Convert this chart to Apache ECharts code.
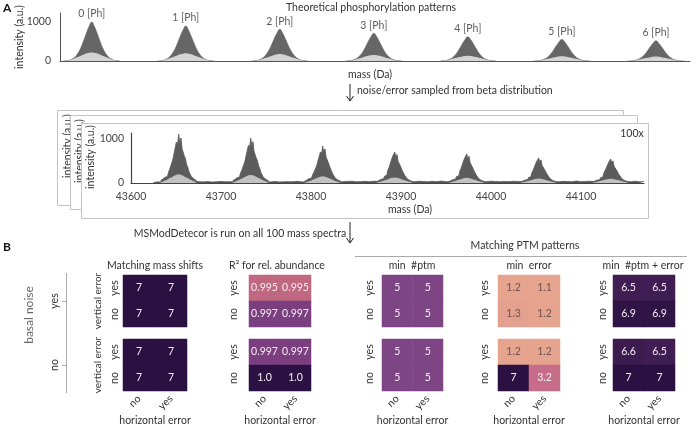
<!DOCTYPE html>
<html><head><meta charset="utf-8">
<script src="https://cdn.jsdelivr.net/npm/echarts@6/dist/echarts.min.js"></script>
<style>html,body{margin:0;padding:0;background:#fff}#c{width:700px;height:430px}</style>
</head><body><div id="c"></div>
<script>
const FONT = 'Lato';
const FS = 10.5;
// ---------- Panel A data ----------
const phLabels = ['0 [Ph]','1 [Ph]','2 [Ph]','3 [Ph]','4 [Ph]','5 [Ph]','6 [Ph]'];
const peakMasses = [43653,43733,43813,43893,43973,44053,44133];
const theoHeights = [1000,897,812,710,623,556,520];
const theoOffsets = [-24,-21.6,-19.2,-16.8,-14.4,-12,-9.6,-7.2,-4.8,-2.4,0,2.4,4.8,7.2,9.6,12,14.4,16.8,19.2,21.6,24];
const theoOuter = [0.0,0.01,0.02,0.05,0.10,0.19,0.32,0.50,0.70,0.88,1.0,0.88,0.70,0.50,0.32,0.19,0.10,0.05,0.02,0.01,0.0];
const theoInner = [0.0,0.01,0.02,0.04,0.07,0.10,0.13,0.16,0.19,0.21,0.22,0.21,0.19,0.16,0.13,0.10,0.07,0.04,0.02,0.01,0.0];
const noisyHeights = [1110,1020,840,705,660,570,545];
const noisyOffsets = [-20,-18.75,-17.5,-16.25,-15,-13.75,-12.5,-11.25,-10,-8.75,-7.5,-6.25,-5,-3.75,-2.5,-1.25,0,1.25,2.5,3.75,5,6.25,7.5,8.75,10,11.25,12.5,13.75,15,16.25,17.5,18.75,20];
const noisyOuter = [0.05,0.06,0.08,0.07,0.12,0.15,0.13,0.22,0.28,0.25,0.42,0.50,0.62,0.58,0.84,0.78,1.0,0.82,0.92,0.70,0.74,0.55,0.50,0.38,0.33,0.24,0.20,0.14,0.12,0.09,0.08,0.06,0.05];
const noisyInner = [0.01,0.02,0.03,0.04,0.05,0.06,0.07,0.08,0.10,0.11,0.12,0.13,0.15,0.16,0.17,0.18,0.18,0.18,0.17,0.16,0.15,0.13,0.12,0.11,0.10,0.08,0.07,0.06,0.05,0.04,0.03,0.02,0.01];
const noiseStart = 43625, noiseStep = 5;
const baseNoise = [10,25,18,30,22,35,28,40, 45,38,30,25,32,20,28,35, 26,30,22,40,28,33,50,36,
  42,30,25,34,22,28,30,26, 38,24,30,45,27,33,40,48, 36,30,28,35,40,26,30,38,
  28,42,33,30,25,36,48,40, 35,30,28,40,32,26,38,30, 45,28,34,30,26,40,35,46,
  38,30,28,42,33,27,36,30, 40,34,28,46,30,36,42,50, 36,30,26,38,32,28,44,30,
  34,40,28,32,48,36,42,38, 30,35,28,40,26,32];
const massTicks = [43600,43700,43800,43900,44000,44100];
const intensityTicks = [0,1000];

// ---------- Panel B data ----------
const hCats = ['no','yes'];
const vCats = ['no','yes'];
const panelTitles = ['Matching mass shifts','R\u00b2 for rel. abundance','min  #ptm','min  error','min  #ptm + error'];
// rows: [vertical error yes, vertical error no]; cols: [horizontal no, horizontal yes]
const massShiftsNoiseYes = [[7,7],[7,7]];
const massShiftsNoiseNo  = [[7,7],[7,7]];
const r2NoiseYes = [[0.995,0.995],[0.997,0.997]];
const r2NoiseNo  = [[0.997,0.997],[1.0,1.0]];
const minPtmNoiseYes = [[5,5],[5,5]];
const minPtmNoiseNo  = [[5,5],[5,5]];
const minErrNoiseYes = [[1.2,1.1],[1.3,1.2]];
const minErrNoiseNo  = [[1.2,1.2],[7,3.2]];
const minBothNoiseYes = [[6.5,6.5],[6.9,6.9]];
const minBothNoiseNo  = [[6.6,6.5],[7,7]];
const panels = [
  [massShiftsNoiseYes, massShiftsNoiseNo],
  [r2NoiseYes, r2NoiseNo],
  [minPtmNoiseYes, minPtmNoiseNo],
  [minErrNoiseYes, minErrNoiseNo],
  [minBothNoiseYes, minBothNoiseNo]
];

// ---------- layout ----------
const txt = '#333';
const plain = (v) => String(v);
const grids = [], xAxes = [], yAxes = [], series = [];
grids.push({left:60, top:13, width:630, height:48});
xAxes.push({type:'value', gridIndex:0, min:43626, max:44162, axisLine:{lineStyle:{color:'#555',width:1}},
  axisTick:{show:false}, axisLabel:{show:false}, splitLine:{show:false}});
yAxes.push({type:'value', gridIndex:0, min:0, max:1230, axisLine:{show:true,lineStyle:{color:'#555'}},
  axisTick:{show:false}, splitLine:{show:false},
  axisLabel:{customValues:intensityTicks, formatter:plain, margin:9, fontFamily:FONT, fontSize:FS, color:'#444'}});
grids.push({left:131, top:133, width:513, height:50, z:10});
xAxes.push({type:'value', gridIndex:1, min:43600, max:44170, z:10, axisLine:{lineStyle:{color:'#444',width:1.2}},
  axisTick:{show:false}, splitLine:{show:false},
  axisLabel:{customValues:massTicks, formatter:plain, margin:8, fontFamily:FONT, fontSize:FS, color:'#444'}});
yAxes.push({type:'value', gridIndex:1, min:0, max:1136, z:10, axisLine:{show:true,lineStyle:{color:'#444',width:1.2}},
  axisTick:{show:false}, splitLine:{show:false},
  axisLabel:{customValues:intensityTicks, formatter:plain, margin:7, fontFamily:FONT, fontSize:FS, color:'#444'}});

function peakSeries(gi, masses, heights, offsets, prof, color, z, smooth, lw) {
  masses.forEach((m, i) => {
    series.push({type:'line', xAxisIndex:gi, yAxisIndex:gi, symbol:'none', smooth:smooth, z:z,
      silent:true, animation:false,
      lineStyle:{color:color, width:lw}, areaStyle:{color:color, opacity:1},
      data: offsets.map((o, k) => [m + o, heights[i] * prof[k]])});
  });
}
peakSeries(0, peakMasses, theoHeights, theoOffsets, theoOuter, '#666666', 3, true, 0.5);
peakSeries(0, peakMasses, theoHeights, theoOffsets, theoInner, '#d4d4d4', 4, true, 0);
series.push({type:'scatter', xAxisIndex:0, yAxisIndex:0, symbolSize:1, itemStyle:{color:'rgba(0,0,0,0)'}, z:5,
  label:{show:true, position:'top', distance:2, formatter:'{b}', fontFamily:FONT, fontSize:FS, color:txt},
  labelLayout:{hideOverlap:false},
  data: peakMasses.map((m, i) => ({name: phLabels[i], value:[m, theoHeights[i]]}))});

series.push({type:'line', xAxisIndex:1, yAxisIndex:1, symbol:'none', z:11, animation:false,
  lineStyle:{color:'#555', width:0.8}, areaStyle:{color:'#555', opacity:1},
  data: baseNoise.map((v, k) => [noiseStart + k * noiseStep, v])});
peakSeries(1, peakMasses, noisyHeights, noisyOffsets, noisyOuter, '#5c5c5c', 12, false, 0.9);
peakSeries(1, peakMasses, noisyHeights, noisyOffsets, noisyInner, '#c2c2c2', 13, false, 0);

const panelLeft = [123, 249, 382, 498, 613];
const panelWidth = [64, 62, 61, 62, 62];
const blockTop = [275, 339];
const blockH = 52;
const rowMargin = [3, 10, 7, 8, 5];
const vm0Series = [], vm1Series = [];
panels.forEach((blocks, p) => {
  blocks.forEach((mat, b) => {
    const gi = grids.length;
    grids.push({left:panelLeft[p], top:blockTop[b], width:panelWidth[p], height:blockH});
    xAxes.push({type:'category', gridIndex:gi, data:hCats, axisLine:{show:false}, axisTick:{show:false},
      axisLabel:{show:b === 1, rotate:45, margin:6, fontFamily:FONT, fontSize:FS, color:txt},
      name: b === 1 ? 'horizontal error' : '', nameLocation:'middle', nameGap:21,
      nameTextStyle:{fontFamily:FONT, fontSize:FS, color:txt}});
    yAxes.push({type:'category', gridIndex:gi, data:vCats, axisLine:{show:false}, axisTick:{show:false},
      axisLabel:{rotate:90, margin:rowMargin[p], fontFamily:FONT, fontSize:FS, color:txt},
      name: p === 0 ? 'vertical error' : '', nameLocation:'middle', nameGap:20, nameRotate:90,
      nameTextStyle:{fontFamily:FONT, fontSize:10, color:txt}});
    const data = [];
    mat.forEach((row, r) => row.forEach((v, c) => {
      const light = (p !== 1 && v < 2);
      data.push({value:[c, 1 - r, v], label:{color: light ? '#6e5454' : '#f4eef4'}});
    }));
    const si = series.length;
    (p === 1 ? vm1Series : vm0Series).push(si);
    series.push({type:'heatmap', xAxisIndex:gi, yAxisIndex:gi, data:data, animation:false,
      itemStyle:{borderWidth:0},
      label:{show:true, fontFamily:FONT, fontSize:FS,
        formatter: (pr) => (p === 1 && pr.value[2] === 1) ? '1.0' : String(pr.value[2])},
      emphasis:{disabled:true}});
  });
});

// ---------- graphics ----------
const T = (x, y, s, o = {}) => Object.assign({type:'text', x:x, y:y, z:30,
  style:{text:s, fill:o.color || txt, font:`${o.size || FS}px ${FONT}`, textAlign:o.align || 'center', textVerticalAlign:'middle'}}, o.rot ? {rotation:o.rot} : {});
const L = (x1, y1, x2, y2, c = '#333', w = 1) => ({type:'line', z:30, shape:{x1, y1, x2, y2}, style:{stroke:c, lineWidth:w}});
const arrow = (x, y1, y2) => [L(x, y1, x, y2, '#222', 1),
  {type:'polyline', z:30, shape:{points:[[x - 3.5, y2 - 5], [x, y2], [x + 3.5, y2 - 5]]}, style:{stroke:'#222', lineWidth:1, fill:null}}];
const frame = (x1, y1, x2, y2, z) => ({type:'rect', z:z, shape:{x:x1 + 0.5, y:y1 + 0.5, width:x2 - x1, height:y2 - y1}, style:{fill:'#fff', stroke:'#c4c4c4', lineWidth:1}});
const rotT = (x, y, s, z) => ({type:'text', x:x, y:y, z:z, rotation:Math.PI / 2,
  style:{text:s, fill:txt, font:`${FS}px ${FONT}`, textAlign:'center', textVerticalAlign:'middle'}});
const graphic = [
  {type:'text', x:3, y:8, z:30, style:{text:'A', fill:'#111', font:`bold 12px ${FONT}`, textVerticalAlign:'middle'}},
  {type:'text', x:3, y:247, z:30, style:{text:'B', fill:'#111', font:`bold 12px ${FONT}`, textVerticalAlign:'middle'}},
  T(371, 8, 'Theoretical phosphorylation patterns'),
  T(20, 37, 'intensity (a.u.)', {rot:Math.PI / 2}),
  T(370, 75, 'mass (Da)'),
  ...arrow(350, 84, 101),
  T(357, 91, 'noise/error sampled from beta distribution', {align:'left'}),
  frame(57, 110, 623, 205, 1), rotT(68, 146, 'intensity (a.u.)', 2),
  frame(70, 115, 637, 209, 3), rotT(80, 151, 'intensity (a.u.)', 4),
  frame(81, 123, 648, 218, 5), rotT(91, 157, 'intensity (a.u.)', 6),
  T(632, 134, '100x'),
  T(410, 210, 'mass (Da)'),
  ...arrow(350, 222, 243),
  T(240, 234, 'MSModDetecor is run on all 100 mass spectra'),
  T(525, 246, 'Matching PTM patterns'),
  L(355, 256.5, 687, 256.5, '#aaa', 1),
  T(155, 266, panelTitles[0]), T(277, 266, panelTitles[1]), T(412, 266, panelTitles[2]),
  T(529, 266, panelTitles[3]), T(643, 266, panelTitles[4]),
  T(29, 315, 'basal noise', {rot:Math.PI / 2, size:12, color:'#666'}),
  T(55, 301, 'yes', {rot:Math.PI / 2}), T(55, 365, 'no', {rot:Math.PI / 2}),
  L(66.5, 273, 66.5, 393, '#aaa', 1), L(62, 301.5, 66.5, 301.5, '#aaa', 1), L(62, 365.5, 66.5, 365.5, '#aaa', 1)
];

const chart = echarts.init(document.getElementById('c'), null, {renderer:'canvas'});
chart.setOption({
  animation:false,
  backgroundColor:'#fff',
  textStyle:{fontFamily:FONT},
  grid:grids, xAxis:xAxes, yAxis:yAxes, series:series,
  visualMap:[
    {type:'continuous', show:false, seriesIndex:vm0Series, dimension:2, min:1, max:7,
      inRange:{color:['#e8a88f','#cf7189','#7e4584','#2b1142']}},
    {type:'continuous', show:false, seriesIndex:vm1Series, dimension:2, min:0.995, max:1.0,
      inRange:{color:['#c0687f','#9e5380','#7b3f7f','#5f2e6b','#452059','#2c1243']}}
  ],
  graphic:graphic
});
</script></body></html>
